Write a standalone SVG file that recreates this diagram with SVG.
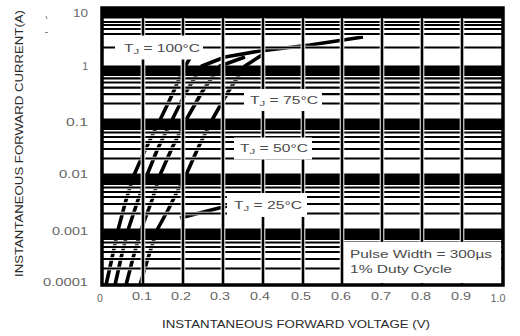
<svg xmlns="http://www.w3.org/2000/svg" width="520" height="336" viewBox="0 0 520 336">
<style>
.h{stroke:#000;stroke-width:2.2;fill:none}
.hh{stroke:#fff;stroke-width:3.6;fill:none}
.v{stroke:#000;stroke-width:2.6;fill:none}
.vh{stroke:#fff;stroke-width:4.6;fill:none}
.band{fill:#000}
.crv{stroke:#000;stroke-width:3.6;fill:none;stroke-linejoin:round}
.lbl{font-family:"Liberation Sans",Arial,sans-serif;font-size:11px;fill:#4a4a4a}
.tk{font-family:"Liberation Sans",Arial,sans-serif;font-size:10.5px;fill:#666}
.ttl{font-family:"Liberation Sans",Arial,sans-serif;font-size:11px;fill:#2a2a2a}
.box{fill:#fff}
</style>
<rect width="520" height="336" fill="#fff"/>
<g id="curves">
<polyline class="crv" points="106,285 112,258 118,230 126,200 134,175 146,148 160,120 172,95 183,70 190,58"/>
<polyline class="crv" points="115,285 121,258 128,230 138,200 147,175 158,148 172,120 186,92 202,66 225,57 260,51 310,45 363,37"/>
<polyline class="crv" points="126,285 133,258 141,230 152,200 160,175 172,148 186,120 202,92 220,66 245,57"/>
<polyline class="crv" points="140,285 148,258 157,230 168,210 178,190 186,175 198,148 212,120 228,92 245,66 262,55"/>
<line class="crv" x1="180" y1="218" x2="227" y2="206" stroke-width="2.4"/>
</g>
<g id="grid">
<g id="hlines-halo" class="hh">
<path d="M102,22H503M102,25H503M102,29H503M102,34H503M102,47.5H503
M102,78.3H503M102,82.5H503M102,87.6H503M102,94.2H503M102,103.5H503
M102,132.5H503M102,137H503M102,142H503M102,149H503M102,158.5H503
M102,187.5H503M102,192H503M102,197H503M102,204H503M102,213.5H503
M102,242.5H503M102,247H503M102,252H503M102,259H503M102,268.5H503"/>
</g>
<g id="hlines" class="h">
<path d="M102,22H503M102,25H503M102,29H503M102,34H503M102,47.5H503
M102,78.3H503M102,82.5H503M102,87.6H503M102,94.2H503M102,103.5H503
M102,132.5H503M102,137H503M102,142H503M102,149H503M102,158.5H503
M102,187.5H503M102,192H503M102,197H503M102,204H503M102,213.5H503
M102,242.5H503M102,247H503M102,252H503M102,259H503M102,268.5H503"/>
</g>
<rect class="band" x="102" y="7" width="401" height="11.5"/>
<rect class="band" x="102" y="65.5" width="401" height="10.5"/>
<rect class="band" x="102" y="118.5" width="401" height="11.5"/>
<rect class="band" x="102" y="173.5" width="401" height="11.5"/>
<rect class="band" x="102" y="228.5" width="401" height="11.5"/>
<g class="vh">
<path d="M143,18V284M183,18V284M223,18V284M263,18V284M303,18V284M342,18V284M382,18V284M422,18V284M462,18V284"/>
</g>
<g class="v">
<path d="M143,7V285M183,7V285M223,7V285M263,7V285M303,7V285M342,7V285M382,7V285M422,7V285M462,7V285"/>
</g>
<rect x="102" y="8" width="401" height="277" fill="none" stroke="#000" stroke-width="3.5"/>
</g>
<g id="label-100">
<rect class="box" x="115" y="35.5" width="88" height="24"/>
<text class="lbl" x="124" y="52" textLength="76" lengthAdjust="spacingAndGlyphs">T<tspan font-size="8" dy="2">J</tspan><tspan dy="-2"> = 100°C</tspan></text>
</g>
<g id="label-75">
<rect class="box" x="244" y="89" width="78" height="22"/>
<text class="lbl" x="250" y="104" textLength="68" lengthAdjust="spacingAndGlyphs">T<tspan font-size="8" dy="2">J</tspan><tspan dy="-2"> = 75°C</tspan></text>
</g>
<g id="label-50">
<rect class="box" x="234" y="137.5" width="78" height="22"/>
<text class="lbl" x="240" y="152" textLength="68" lengthAdjust="spacingAndGlyphs">T<tspan font-size="8" dy="2">J</tspan><tspan dy="-2"> = 50°C</tspan></text>
</g>
<g id="label-25">
<rect class="box" x="227" y="193" width="80" height="24"/>
<text class="lbl" x="234" y="209" textLength="68" lengthAdjust="spacingAndGlyphs">T<tspan font-size="8" dy="2">J</tspan><tspan dy="-2"> = 25°C</tspan></text>
</g>
<g id="pulse-note">
<rect class="box" x="344" y="242" width="157" height="41"/>
<text class="lbl" x="350" y="258" textLength="142" lengthAdjust="spacingAndGlyphs">Pulse Width = 300µs</text>
<text class="lbl" x="350" y="273" textLength="102" lengthAdjust="spacingAndGlyphs">1% Duty Cycle</text>
</g>
<g id="y-ticks" class="tk" text-anchor="end">
<text x="88" y="17" textLength="15" lengthAdjust="spacingAndGlyphs">10</text>
<text x="88" y="70">1</text>
<text x="88" y="126" textLength="22" lengthAdjust="spacingAndGlyphs">0.1</text>
<text x="88" y="178" textLength="29" lengthAdjust="spacingAndGlyphs">0.01</text>
<text x="88" y="235" textLength="36" lengthAdjust="spacingAndGlyphs">0.001</text>
<text x="88" y="286" textLength="45" lengthAdjust="spacingAndGlyphs">0.0001</text>
</g>
<g id="x-ticks" class="tk" text-anchor="middle">
<text x="100" y="302">0</text>
<text x="142" y="300" textLength="20" lengthAdjust="spacingAndGlyphs">0.1</text>
<text x="181" y="300" textLength="20" lengthAdjust="spacingAndGlyphs">0.2</text>
<text x="220" y="300" textLength="20" lengthAdjust="spacingAndGlyphs">0.3</text>
<text x="260" y="300" textLength="20" lengthAdjust="spacingAndGlyphs">0.4</text>
<text x="301" y="300" textLength="20" lengthAdjust="spacingAndGlyphs">0.5</text>
<text x="341" y="300" textLength="20" lengthAdjust="spacingAndGlyphs">0.6</text>
<text x="381" y="300" textLength="20" lengthAdjust="spacingAndGlyphs">0.7</text>
<text x="421" y="300" textLength="20" lengthAdjust="spacingAndGlyphs">0.8</text>
<text x="461" y="300" textLength="20" lengthAdjust="spacingAndGlyphs">0.9</text>
<text x="498" y="302" textLength="15" lengthAdjust="spacingAndGlyphs">1.0</text>
</g>
<g id="axis-titles">
<text class="ttl" transform="translate(23,143.5) rotate(-90)" text-anchor="middle" textLength="267" lengthAdjust="spacingAndGlyphs">INSTANTANEOUS FORWARD CURRENT(A)</text>
<text class="ttl" x="296" y="328" text-anchor="middle" textLength="268" lengthAdjust="spacingAndGlyphs">INSTANTANEOUS FORWARD VOLTAGE (V)</text>
</g>
<g id="marks" stroke="#888" stroke-width="1">
<path d="M46,16l1,3M45,32.5h3"/>
</g>
</svg>
